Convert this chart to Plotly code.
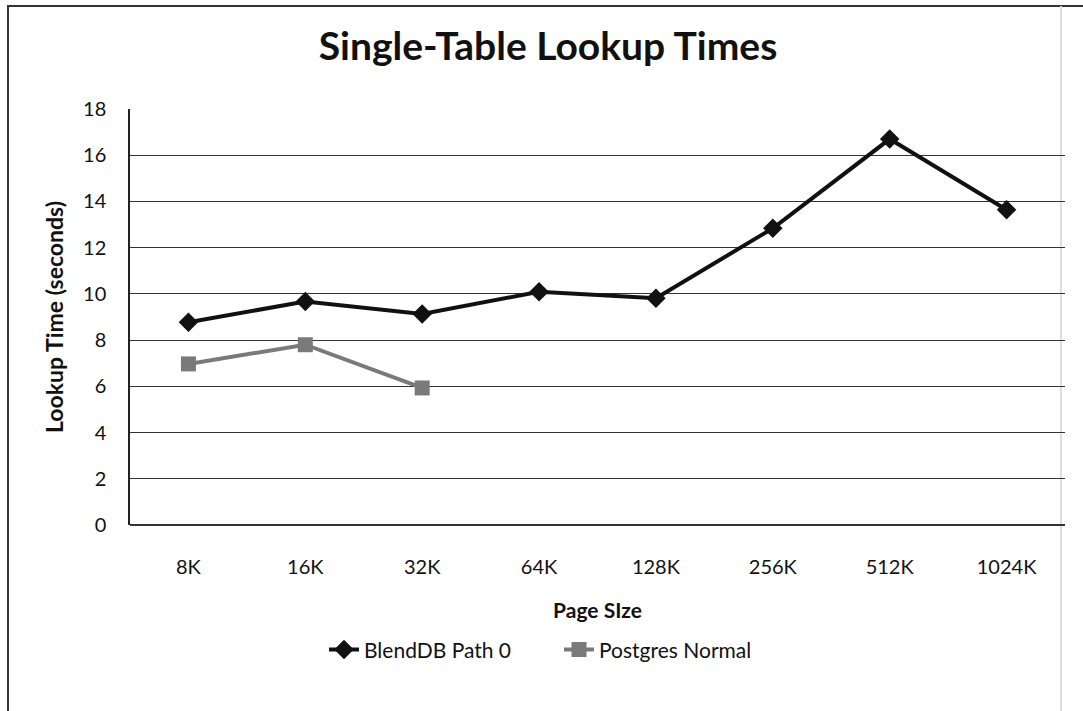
import plotly.graph_objects as go

categories = ["8K", "16K", "32K", "64K", "128K", "256K", "512K", "1024K"]
blenddb = [8.77, 9.67, 9.13, 10.09, 9.81, 12.84, 16.7, 13.64]
postgres_cats = ["8K", "16K", "32K"]
postgres = [6.97, 7.8, 5.93]
y_ticks = [0, 2, 4, 6, 8, 10, 12, 14, 16, 18]

FONT = "Lato, Open Sans, sans-serif"

fig = go.Figure()
fig.add_trace(go.Scatter(
    x=categories, y=blenddb, name="BlendDB Path 0", mode="lines+markers",
    line=dict(color="#111111", width=4),
    marker=dict(symbol="diamond", size=15, color="#111111"),
))
fig.add_trace(go.Scatter(
    x=postgres_cats, y=postgres, name="Postgres Normal", mode="lines+markers",
    line=dict(color="#7a7a7a", width=4),
    marker=dict(symbol="square", size=15, color="#7a7a7a"),
))

fig.update_layout(
    width=1083, height=711,
    margin=dict(l=130, r=18, t=109, b=186),
    paper_bgcolor="white", plot_bgcolor="white",
    font=dict(family=FONT, color="#111111"),
    title=dict(text="<b>Single-Table Lookup Times</b>", x=0.506, xanchor="center",
               y=1 - 46 / 711, yref="container", yanchor="middle",
               font=dict(size=39, family=FONT, color="#111111")),
    showlegend=True,
    legend=dict(orientation="h", x=(559 - 130) / 935, xanchor="center", y=-0.30, yanchor="middle",
                font=dict(size=21, family=FONT), entrywidth=190, entrywidthmode="pixels",
                bgcolor="rgba(0,0,0,0)"),
    xaxis=dict(
        type="category", categoryorder="array", categoryarray=categories,
        tickfont=dict(size=20, family=FONT), ticks="", showgrid=False,
        showline=False, zeroline=False, ticklabelstandoff=28,
        title=dict(text="<b>Page SIze</b>", font=dict(size=21, family=FONT), standoff=26),
        range=[-0.5, 7.5],
    ),
    yaxis=dict(
        range=[0, 18], tickvals=y_ticks, tickfont=dict(size=20, family=FONT),
        showgrid=True, gridcolor="#333333", gridwidth=1.2,
        showline=True, linecolor="#222222", linewidth=1.5,
        zeroline=True, zerolinecolor="#333333", zerolinewidth=1.5,
        ticks="", ticklabelstandoff=18,
        title=dict(text="<b>Lookup Time (seconds)</b>", font=dict(size=23, family=FONT), standoff=13),
    ),
    shapes=[
        dict(type="rect", xref="paper", yref="paper",
             x0=(8 - 130) / 935, x1=(1095 - 130) / 935, y0=(525 - 716) / 416, y1=(525 - 6) / 416,
             line=dict(color="#333333", width=2), layer="below"),
        dict(type="line", xref="paper", yref="paper",
             x0=(1061 - 130) / 935, x1=(1061 - 130) / 935, y0=(525 - 716) / 416, y1=(525 - 6) / 416,
             line=dict(color="#dddddd", width=2), layer="below"),
    ],
)

fig.write_html("out.html")
